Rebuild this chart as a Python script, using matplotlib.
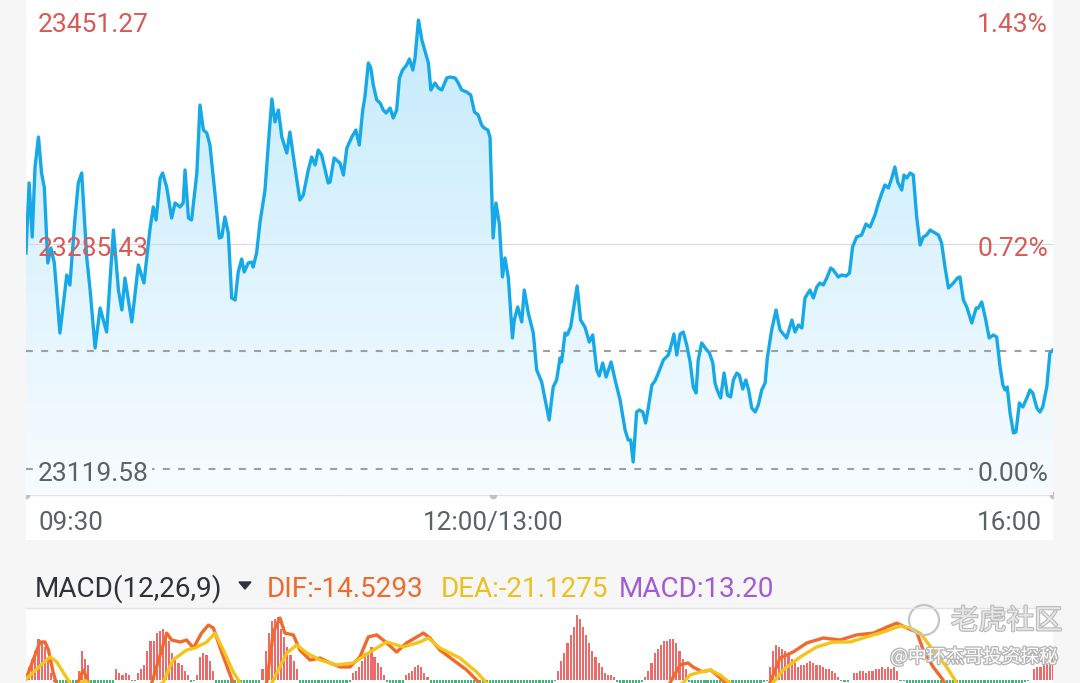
import numpy as np
import matplotlib
matplotlib.use('Agg')
import matplotlib.pyplot as plt
from matplotlib.patches import Circle, Polygon
from matplotlib.transforms import blended_transform_factory
import matplotlib.patheffects as pe

plt.rcParams['font.family'] = ['Roboto', 'Noto Sans CJK SC', 'DejaVu Sans']

# ---------------- data ----------------
session_minutes = 330
time_ticks = [0, 150, 330]
time_labels = ['09:30', '12:00/13:00', '16:00']

price_levels = [23451.27, 23285.43, 23119.58]
pct_labels = ['1.43%', '0.72%', '0.00%']
ref_line = 23206.75

price_t = [
    0.0, 1.0, 2.0, 2.9, 4.0, 5.0, 5.9, 7.0, 8.0, 9.1,
    10.9, 13.1, 14.1, 15.7, 16.8, 17.9, 19.5, 20.6, 22.2, 23.8,
    25.9, 28.1, 29.7, 30.8, 31.8, 34.0, 36.1, 37.9, 39.8, 40.9,
    41.8, 43.1, 43.9, 45.2, 46.8, 47.9, 49.5, 50.5, 51.1, 52.2,
    53.2, 54.9, 55.9, 57.0, 58.1, 59.1, 60.7, 62.1, 62.9, 63.9,
    65.0, 66.1, 67.2, 68.2, 69.3, 70.1, 71.4, 72.5, 73.0, 74.1,
    75.2, 76.8, 77.9, 79.0, 80.0, 81.1, 82.2, 83.8, 84.8, 86.4,
    88.0, 89.1, 90.7, 91.8, 92.9, 93.9, 95.0, 97.1, 97.7, 99.0,
    100.9, 102.0, 103.1, 104.7, 106.0, 107.1, 108.2, 108.9, 110.0, 110.8,
    111.6, 112.7, 113.8, 114.8, 115.7, 117.0, 118.0, 119.1, 120.0, 121.0,
    122.3, 123.2, 124.3, 125.0, 126.1, 127.2, 129.3, 130.1, 131.4, 132.5,
    133.6, 135.2, 136.2, 137.9, 138.9, 140.0, 141.6, 142.9, 144.1, 145.3,
    146.4, 147.2, 148.4, 149.1, 150.1, 151.0, 152.1, 153.1, 153.9, 155.0,
    156.3, 156.9, 158.0, 159.3, 160.1, 161.4, 163.0, 164.1, 165.7, 168.1,
    169.4, 170.5, 171.6, 172.1, 173.2, 173.9, 175.0, 177.1, 178.2, 179.6,
    181.0, 182.1, 183.4, 184.2, 185.3, 186.4, 188.0, 189.3, 190.9, 192.5,
    193.5, 194.3, 195.1, 196.2, 197.1, 198.2, 199.1, 200.0, 201.1, 202.1,
    203.2, 204.8, 206.4, 207.5, 208.2, 209.1, 210.2, 211.2, 212.3, 213.4,
    214.4, 215.3, 216.0, 217.1, 218.5, 219.6, 220.7, 221.4, 222.1, 223.2,
    224.3, 225.4, 226.4, 227.3, 228.4, 229.2, 230.3, 231.3, 232.2, 233.2,
    234.3, 235.3, 236.4, 237.5, 238.2, 239.6, 241.0, 242.3, 244.4, 246.1,
    247.1, 248.2, 249.3, 250.3, 251.9, 253.0, 254.1, 255.1, 256.2, 257.3,
    258.6, 259.4, 261.0, 262.1, 263.5, 264.6, 265.6, 266.9, 268.5, 269.9,
    271.2, 272.8, 273.9, 275.0, 276.0, 277.1, 278.2, 279.2, 280.1, 281.4,
    282.1, 283.0, 284.1, 285.1, 286.2, 287.3, 288.3, 289.4, 290.5, 291.6,
    293.2, 294.2, 295.3, 296.4, 298.0, 299.3, 300.1, 301.2, 302.3, 303.9,
    305.3, 306.0, 307.1, 308.2, 309.5, 310.8, 311.9, 313.0, 313.9, 314.6,
    315.3, 316.2, 317.3, 318.1, 319.2, 320.3, 321.6, 322.6, 323.5, 324.8,
    325.8, 326.7, 328.0, 329.0, 330.0,
]
price_v = [
    23279.15, 23330.86, 23290.97, 23342.68, 23364.84, 23338.24, 23327.16, 23271.76, 23282.84, 23271.76,
    23220.05, 23262.89, 23255.51, 23303.52, 23330.86, 23338.24, 23276.19, 23251.81, 23208.97, 23238.52,
    23220.79, 23296.14, 23251.81, 23237.04, 23260.68, 23228.17, 23270.28, 23256.98, 23296.14, 23313.13,
    23303.52, 23334.55, 23338.24, 23327.90, 23305.00, 23316.08, 23313.13, 23316.08, 23340.46, 23305.00,
    23303.52, 23338.24, 23388.48, 23370.01, 23367.79, 23358.93, 23323.47, 23290.23, 23290.97, 23305.74,
    23293.92, 23245.90, 23244.43, 23265.11, 23274.71, 23265.11, 23271.76, 23272.50, 23268.80, 23279.15,
    23302.05, 23325.69, 23360.41, 23392.91, 23375.92, 23384.78, 23364.84, 23353.02, 23368.53, 23342.68,
    23318.30, 23321.99, 23340.46, 23350.06, 23344.15, 23355.23, 23351.54, 23330.86, 23331.60, 23349.33,
    23345.63, 23336.77, 23356.71, 23364.84, 23370.01, 23358.93, 23384.78, 23394.39, 23419.50, 23415.81,
    23403.25, 23392.17, 23389.96, 23384.78, 23382.57, 23386.26, 23378.87, 23384.78, 23408.42, 23414.33,
    23418.03, 23422.46, 23414.33, 23423.20, 23451.27, 23436.50, 23419.50, 23399.56, 23404.73, 23401.04,
    23399.56, 23408.42, 23409.16, 23408.42, 23404.73, 23399.56, 23398.08, 23395.87, 23383.31, 23381.09,
    23373.70, 23371.49, 23370.01, 23364.84, 23290.23, 23316.08, 23300.57, 23261.42, 23275.45, 23260.68,
    23216.35, 23229.65, 23239.25, 23228.17, 23251.81, 23234.82, 23220.05, 23192.71, 23183.85, 23155.78,
    23180.16, 23185.33, 23201.58, 23198.62, 23220.05, 23218.57, 23224.48, 23254.77, 23229.65, 23224.48,
    23213.40, 23218.57, 23192.71, 23188.28, 23197.89, 23187.54, 23198.62, 23185.33, 23170.55, 23148.39,
    23141.00, 23141.00, 23124.75, 23161.69, 23163.16, 23161.69, 23153.56, 23165.38, 23181.63, 23184.59,
    23190.50, 23200.10, 23203.80, 23212.66, 23219.31, 23203.80, 23219.31, 23220.79, 23211.18, 23198.62,
    23180.16, 23175.72, 23200.10, 23212.66, 23208.23, 23205.27, 23197.89, 23183.11, 23177.94, 23172.03,
    23190.50, 23174.25, 23172.77, 23185.33, 23190.50, 23189.02, 23178.68, 23185.33, 23177.94, 23164.64,
    23161.69, 23166.86, 23177.94, 23183.11, 23201.58, 23222.26, 23237.04, 23222.26, 23216.35, 23229.65,
    23220.79, 23225.96, 23223.74, 23245.90, 23251.81, 23245.90, 23254.03, 23256.98, 23255.51, 23260.68,
    23268.06, 23266.59, 23261.42, 23262.89, 23262.15, 23264.37, 23283.58, 23290.97, 23292.44, 23300.57,
    23298.35, 23307.22, 23316.08, 23323.47, 23329.38, 23327.16, 23334.55, 23342.68, 23331.60, 23325.69,
    23336.77, 23334.55, 23338.24, 23336.77, 23305.74, 23285.06, 23290.97, 23292.44, 23296.14, 23294.66,
    23292.44, 23286.53, 23268.80, 23253.29, 23256.98, 23260.68, 23261.42, 23244.43, 23239.25, 23227.43,
    23238.52, 23238.52, 23242.95, 23231.87, 23216.35, 23218.57, 23217.09, 23194.93, 23181.63, 23177.94,
    23180.16, 23160.95, 23146.17, 23146.91, 23168.34, 23165.38, 23172.03, 23177.94, 23175.72, 23164.64,
    23161.69, 23165.38, 23180.16, 23205.27, 23207.49,
]

# MACD histogram, one bar per minute (0..330)
macd_hist = [
    2.7, 6.6, 11.0, 15.4, 22.0, 20.3, 18.1, 11.0, 3.8,
    -1.5, -3.8, -6.2, -8.0, -8.9, -8.1, -6.0, -3.2,
    4.9, 15.9, 11.5, 7.7,
    -2.0, -4.6, -6.8, -8.4, -8.8, -7.6, -5.1, -2.3,
    6.0, 3.8, 2.2, 3.3, 2.2,
    -0.8, -0.6,
    3.3, 6.0, 8.2, 15.9, 21.4, 21.4, 25.8, 26.4, 28.0, 24.2, 21.4, 14.3, 11.0, 8.8, 7.7, 4.9, 2.2,
    -1.2, -0.7,
    2.7, 12.1, 14.3, 13.7, 9.9, 4.4,
    -2.6, -5.9, -9.3, -12.4, -14.8, -16.9, -18.2, -18.8, -18.1, -16.5, -14.0, -11.2, -8.3, -5.1, -2.2,
    6.0, 15.9, 25.3, 31.9, 33.5, 34.1, 27.5, 23.6, 18.1, 13.7, 10.4, 5.5,
    -1.8, -3.9, -5.6, -6.8, -7.5, -7.9, -8.2, -8.0, -7.6, -7.1, -6.4, -5.5, -4.6, -3.8, -2.9, -2.0, -1.1,
    3.8, 4.9, 6.6, 10.4, 14.3, 14.8, 17.6, 12.1, 9.3, 6.6, 2.2,
    -1.3, -3.0, -4.2, -4.6, -3.7, -1.9,
    2.2, 3.8, 4.9, 6.6, 8.2, 6.6, 3.3, 1.6,
    -2.4, -5.1, -7.9, -10.8, -13.6, -16.1, -18.4, -20.3, -21.8, -22.9, -23.5, -23.8, -23.6, -23.0,
    -22.1, -20.9, -19.6, -18.3, -17.1, -16.0, -15.2, -14.7, -14.5, -14.6, -14.9, -15.3, -15.6, -15.7,
    -15.5, -15.0, -14.2, -13.1, -11.8, -10.4, -8.9, -7.4, -5.9, -4.5, -3.2, -2.0, -0.9,
    4.4, 10.4, 14.8, 19.8, 24.2, 28.6, 35.2, 33.0, 28.6, 24.2, 19.8, 15.9, 12.1, 8.8, 6.6, 3.8, 2.7, 2.7, 1.1,
    -1.4, -3.2, -4.9, -6.1, -6.6, -6.2, -5.0, -3.3, -1.5,
    1.6, 4.9, 9.3, 14.3, 16.5, 19.2, 20.9, 21.4, 22.5, 22.0, 19.8, 15.9, 11.0, 5.5,
    -1.2, -2.8, -4.1, -4.9, -5.2, -5.0, -4.8, -4.9, -5.5, -6.4, -7.6, -8.9, -10.1, -11.0, -11.5, -11.6,
    -11.2, -10.4, -9.3, -8.0, -6.6, -5.2, -3.9, -2.7, -1.6, -0.7,
    6.6, 15.4, 18.7, 17.6, 16.5, 15.4, 13.2, 11.0, 8.8, 7.1, 8.2, 8.2, 8.8, 9.9, 9.3, 8.2, 8.2, 7.1,
    6.0, 5.5, 4.9, 3.3, 1.6,
    -0.8, -1.4, -1.1, -0.5,
    3.3, 3.8, 4.4, 4.4, 3.8, 4.4, 4.9, 5.5, 6.0, 6.6, 6.0, 6.6, 6.0, 6.6, 4.9,
    -0.6, -1.0, -3.5, -7.2, -11.0, -14.6, -17.9, -20.8, -23.1, -24.9, -26.0, -26.6, -26.5, -25.9,
    -24.9, -23.6, -22.1, -20.5, -18.9, -17.3, -15.8, -14.4, -13.0, -11.8, -10.6, -9.6, -8.7, -8.0,
    -7.4, -7.0, -6.8, -6.9, -7.1, -7.2, -6.9, -6.2, -5.2, -4.1, -3.0, -2.0, -1.2, -0.7, -0.3,
    6.0, 6.6, 6.6, 8.2, 9.3, 11.0, 13.2,
]

dif_t = [0, 4.5, 6.1, 7.2, 8.7, 10.4, 13, 15.7, 16.7, 18.3, 19.6, 20.6, 25, 32, 38.2, 40.4, 43.1,
         45.2, 46.8, 49.5, 51.6, 53.8, 56.4, 58.6, 60.2, 62.3, 65.0, 66.6, 68.8, 72, 75.8, 77.3,
         79.5, 81.6, 83.2, 85.9, 88.0, 91.3, 94.5, 97.7, 100.9, 104.1, 107.3, 110.0, 112.7, 115.9,
         119.1, 122.3, 125.0, 127.7, 129.8, 133.0, 137.3, 141.6, 144.8, 147.5, 155, 170, 185, 200,
         205.5, 206.9, 210.2, 212.7, 214.3, 217.2, 220.0, 222.7, 224.9, 228, 234, 237.5, 239.0,
         242.3, 246.5, 250.9, 256.2, 261.6, 266.9, 272.3, 276.6, 279.8, 283.0, 286.2, 288.3,
         291.5, 294.7, 296.9, 305, 315, 330]
dif_v = [0.3, 20.6, 20.6, 16.2, 4.1, -6, -9, -6, -1.9, 5.2, 0.8, -6, -12, -14, -11, -1.9, 13.5,
         25.5, 21.7, 20.6, 21.7, 17.3, 25.5, 29.9, 28.3, 17.9, 5.2, -1.9, -11, -15, -11, -1.9,
         26.1, 33.8, 25.5, 24.5, 16.2, 10.7, 11.8, 9.1, 6.9, 6.9, 12.4, 23.4, 24.5, 20.1,
         15.1, 20.1, 22.8, 25.5, 22.8, 16.2, 10.7, 5.2, -0.3, -5.8, -16, -22, -25, -18,
         -8, -1.9, 8, 9.1, 6.9, 4.3, 5.2, 1.4, -1.9, -8, -13, -11, -1.9,
         11.8, 15.1, 20.1, 22.8, 21.7, 24.5, 25.5, 28.8, 31.0, 28.3, 26.1, 16.2,
         6.9, -0.3, -8.5, -16, -18, -14.53]
dea_t = [0, 7.7, 9.9, 14.1, 15.7, 19.0, 22, 35, 44.0, 47.2, 51.6, 54.3, 58.1, 60.7, 63.4, 66.6,
         68.8, 70.4, 76, 79.0, 83.8, 87.0, 90.2, 94.5, 99.8, 105.2, 110.5, 115.9, 121.2, 126.6,
         129.3, 133.0, 139.4, 144.8, 148.0, 150.7, 170, 190, 205, 211.1, 213.4, 216.6, 219.8,
         223.0, 226.2, 230, 235, 238.4, 240.0, 243.3, 248.8, 254.1, 259.4, 264.8, 270.1, 275.5,
         280.8, 284.0, 287.3, 291.5, 295.8, 298.5, 300.1, 310, 320, 330]
dea_v = [0.3, 12.4, 9.6, -1.9, -4, -0.5, -5, -8, -1.9, 10.7, 16.2, 17.3, 20.6, 25.5, 16.2, 4.1,
         -1.9, -6.9, -10, -1.9, 14.6, 19.0, 14.6, 10.7, 8.0, 9.1, 15.1, 20.6, 17.9, 20.6,
         22.8, 17.3, 11.8, 4.1, -1.9, -6.9, -15, -18, -8, -1.9, 2.5, 4.1, 5.2,
         2.5, -1.9, -6, -9, -11, -1.9, 5.2, 12.4, 17.9, 20.6, 20.6, 23.4, 26.1,
         29.4, 28.3, 25.5, 16.2, 6.9, -0.3, -5.8, -15, -20, -21.13]

dif_last, dea_last, macd_last = -14.5293, -21.1275, 13.20

# ---------------- layout ----------------
W, H = 1080, 683
fig = plt.figure(figsize=(W / 100, H / 100), dpi=100, facecolor='#f6f6f6')


def frac(x0, y0, x1, y1):
    return [x0 / W, 1 - y1 / H, (x1 - x0) / W, (y1 - y0) / H]


def clean(a):
    a.set_xticks([])
    a.set_yticks([])
    for s in a.spines.values():
        s.set_visible(False)


RED = '#d85955'
GRAY = '#5b6169'

bg = fig.add_axes(frac(26, 0, 1053, 540))
bg.set_facecolor('white')
clean(bg)

ax = fig.add_axes(frac(26, 0, 1053, 495))
ax.patch.set_alpha(0)
clean(ax)
hi, lo = price_levels[0], price_levels[-1]
k = (hi - lo) / 449.0
ylo, yhi = lo - 26 * k, hi + 20 * k

# gradient fill under the price line
top_c = np.array([194, 234, 252]) / 255.0
bot_c = np.array([248, 252, 255]) / 255.0
g = np.linspace(0, 1, 256)[:, None]
grad = (top_c[None, :] * (1 - g) + bot_c[None, :] * g)[:, None, :]
im = ax.imshow(grad, extent=[0, session_minutes, ylo, yhi], aspect='auto',
               origin='upper', zorder=1, interpolation='bilinear')
poly = ax.fill_between(price_t, price_v, ylo, facecolor='none', edgecolor='none')
im.set_clip_path(poly.get_paths()[0], ax.transData)

ax.axhline(price_levels[1], color='#dadada', lw=0.8, zorder=2)
ax.axhline(ref_line, color='#9f9f9f', lw=1.5, ls=(0, (3.3, 4.0)), zorder=2)
ax.axhline(lo, color='#9f9f9f', lw=1.5, ls=(0, (3.3, 4.0)), zorder=2)
ax.plot(price_t, price_v, color='#17a9e7', lw=2.4, zorder=4, solid_joinstyle='round')
ax.set_xlim(0, session_minutes)
ax.set_ylim(ylo, yhi)

# bottom time axis with dots (clipped by white panel)
tr = blended_transform_factory(ax.transData, ax.transAxes)
bg.plot([0, session_minutes], [0, 0], transform=tr, color='#e2e2e2', lw=1.0, zorder=3)
bg.plot(time_ticks, [0] * len(time_ticks), 'o', transform=tr, ms=5.5, color='#c2c2c2',
        mec='none', zorder=4)

for i, (p, pl) in enumerate(zip(price_levels, pct_labels)):
    last = i == len(price_levels) - 1
    c = GRAY if last else RED
    box = dict(boxstyle='square,pad=0.15', fc='#f4fafe', ec='none') if last else None
    ax.annotate(f'{p:.2f}', xy=(0, p), xycoords=('axes fraction', 'data'), xytext=(11.5, -12),
                textcoords='offset pixels', ha='left', va='baseline', fontsize=19, color=c,
                zorder=6, bbox=box, annotation_clip=False)
    ax.annotate(pl, xy=(1, p), xycoords=('axes fraction', 'data'), xytext=(-5, -12),
                textcoords='offset pixels', ha='right', va='baseline', fontsize=19, color=c,
                zorder=6, bbox=box, annotation_clip=False)

for t, lab, ha, dx in zip(time_ticks, time_labels, ['left', 'center', 'right'], [12, 0, -11]):
    ax.annotate(lab, xy=(t, 0), xycoords=('data', 'axes fraction'), xytext=(dx, -35),
                textcoords='offset pixels', ha=ha, va='baseline', fontsize=18.7, color=GRAY,
                annotation_clip=False)

# ---------------- MACD panel ----------------
am = fig.add_axes(frac(26, 608, 1053, 683))
am.set_facecolor('white')
clean(am)
px_per_unit = 1.82
am.set_ylim(-(683 - 679.5) / px_per_unit, (679.5 - 608) / px_per_unit)
am.set_xlim(0, session_minutes)
bar_colors = ['#ec6a6a' if v >= 0 else '#3cb878' for v in macd_hist]
am.bar(np.arange(len(macd_hist)), macd_hist, width=0.68, color=bar_colors, linewidth=0, zorder=2)
am.plot(dif_t, dif_v, color='#f06a2e', lw=2.4, zorder=3, solid_joinstyle='round')
am.plot(dea_t, dea_v, color='#f4c418', lw=2.4, zorder=4, solid_joinstyle='round')

fyb = 1 - 597 / H
fs_head = 20.1
fig.text(34.4 / W, fyb, 'MACD(12,26,9)', fontsize=fs_head, color='#2f3237', va='baseline')
fig.text(266.9 / W, fyb, f'DIF:{dif_last:.4f}', fontsize=fs_head, color='#ee6a2d', va='baseline')
fig.text(441 / W, fyb, f'DEA:{dea_last:.4f}', fontsize=fs_head, color='#ecc01d', va='baseline')
fig.text(619 / W, fyb, f'MACD:{macd_last:.2f}', fontsize=fs_head, color='#a35bd5', va='baseline')

# overlay for decorations
ov = fig.add_axes([0, 0, 1, 1], zorder=10)
ov.set_xlim(0, W)
ov.set_ylim(H, 0)
ov.axis('off')
ov.add_patch(Polygon([[239, 582], [251, 582], [245, 589]], closed=True, color='#2f3237'))
ov.plot([26, 1053], [608, 608], color='#e2e2e2', lw=1)
ov.add_patch(Circle((924, 620), 15, fill=False, ec='#c4c4c4', lw=1.6))
ov.text(951, 621, '老虎社区', fontsize=20, color='#e6e6e6', va='center', ha='left',
        family=['Noto Sans CJK SC'],
        path_effects=[pe.withStroke(linewidth=1.6, foreground='#b9b9b9')])
ov.text(1058, 657, '@中环杰哥投资探秘', fontsize=13.5, color='white', ha='right', va='center',
        family=['Noto Sans CJK SC', 'DejaVu Sans'],
        path_effects=[pe.withStroke(linewidth=2, foreground='#b8b8b8')])

fig.savefig('out.png', dpi=100, facecolor=fig.get_facecolor())
